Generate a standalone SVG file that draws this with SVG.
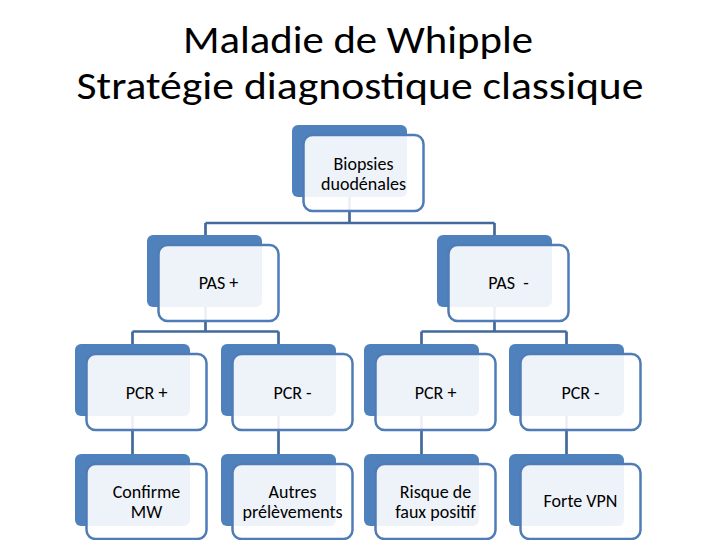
<svg xmlns="http://www.w3.org/2000/svg" width="720" height="540" viewBox="0 0 720 540">
<style>
.title{font-family:Carlito,Lato,"Liberation Sans",sans-serif;font-size:39px;fill:#000;text-anchor:middle}
.back{fill:#4f81bd}
.front{fill:#fff;fill-opacity:0.9;stroke:#4f7cb6;stroke-width:2.5}
.lbl{font-family:Carlito,Lato,"Liberation Sans",sans-serif;font-size:18px;fill:#000;text-anchor:middle;white-space:pre}
.conn{fill:none;stroke:#43699c;stroke-width:2.7}
</style>
<rect width="720" height="540" fill="#fff"/>
<text class="title" x="358" y="53" textLength="350" lengthAdjust="spacingAndGlyphs">Maladie de Whipple</text>
<text class="title" x="360" y="99" textLength="567" lengthAdjust="spacingAndGlyphs">Stratégie diagnostique classique</text>

<g id="backs">
<rect class="back" x="292" y="125" width="115" height="72" rx="6"/>
<rect class="back" x="147" y="235" width="115" height="72" rx="6"/>
<rect class="back" x="437" y="235" width="115" height="72" rx="6"/>
<rect class="back" x="75" y="344" width="115" height="72" rx="6"/>
<rect class="back" x="221" y="344" width="115" height="72" rx="6"/>
<rect class="back" x="364" y="344" width="115" height="72" rx="6"/>
<rect class="back" x="509" y="344" width="115" height="72" rx="6"/>
<rect class="back" x="75" y="454" width="115" height="72" rx="6"/>
<rect class="back" x="221" y="454" width="115" height="72" rx="6"/>
<rect class="back" x="364" y="454" width="115" height="72" rx="6"/>
<rect class="back" x="509" y="454" width="115" height="72" rx="6"/>
</g>

<g id="connectors">
<path class="conn" d="M349.5,197 V223 M205.5,223 H494.5 M205.5,223 V235 M494.5,223 V235"/>
<path class="conn" d="M205.5,307 V331.5 M132.5,331.5 H278.5 M132.5,331.5 V344 M278.5,331.5 V344"/>
<path class="conn" d="M494.5,307 V331.5 M421.5,331.5 H566.5 M421.5,331.5 V344 M566.5,331.5 V344"/>
<path class="conn" d="M132.5,416 V454 M278.5,416 V454 M421.5,416 V454 M566.5,416 V454"/>
</g>

<g id="n-biopsies">
<rect class="front" x="303.5" y="135" width="120" height="76" rx="9"/>
<text class="lbl" x="363.5" y="170">Biopsies</text>
<text class="lbl" x="363.5" y="190">duodénales</text>
</g>
<g id="n-pas-plus">
<rect class="front" x="158.5" y="245" width="120" height="76" rx="9"/>
<text class="lbl" x="218.5" y="289">PAS +</text>
</g>
<g id="n-pas-minus">
<rect class="front" x="448.5" y="245" width="120" height="76" rx="9"/>
<text class="lbl" x="508.5" y="289">PAS  -</text>
</g>
<g id="n-pcr1">
<rect class="front" x="86.5" y="354" width="120" height="76" rx="9"/>
<text class="lbl" x="146.5" y="399">PCR +</text>
</g>
<g id="n-pcr2">
<rect class="front" x="232.5" y="354" width="120" height="76" rx="9"/>
<text class="lbl" x="292.5" y="399">PCR -</text>
</g>
<g id="n-pcr3">
<rect class="front" x="375.5" y="354" width="120" height="76" rx="9"/>
<text class="lbl" x="435.5" y="399">PCR +</text>
</g>
<g id="n-pcr4">
<rect class="front" x="520.5" y="354" width="120" height="76" rx="9"/>
<text class="lbl" x="580.5" y="399">PCR -</text>
</g>
<g id="n-confirme">
<rect class="front" x="86.5" y="464" width="120" height="75" rx="9"/>
<text class="lbl" x="146.5" y="498">Confirme</text>
<text class="lbl" x="146.5" y="518">MW</text>
</g>
<g id="n-autres">
<rect class="front" x="232.5" y="464" width="120" height="75" rx="9"/>
<text class="lbl" x="292.5" y="498">Autres</text>
<text class="lbl" x="292.5" y="518">prélèvements</text>
</g>
<g id="n-risque">
<rect class="front" x="375.5" y="464" width="120" height="75" rx="9"/>
<text class="lbl" x="435.5" y="498">Risque de</text>
<text class="lbl" x="435.5" y="518">faux positif</text>
</g>
<g id="n-forte">
<rect class="front" x="520.5" y="464" width="120" height="75" rx="9"/>
<text class="lbl" x="580.5" y="507">Forte VPN</text>
</g>
</svg>
